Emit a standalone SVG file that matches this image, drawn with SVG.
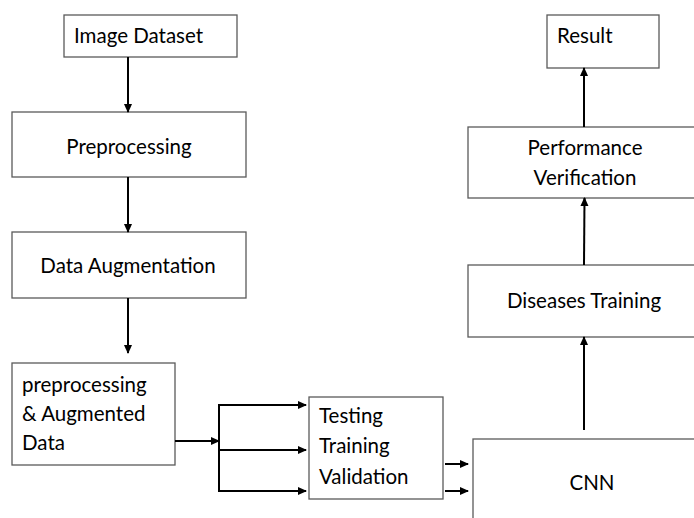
<svg xmlns="http://www.w3.org/2000/svg" width="694" height="518" viewBox="0 0 694 518">
<style>
.box{fill:#fff;stroke:#5a5a5a;stroke-width:1.3}
.t{font-family:Lato,"Liberation Sans",sans-serif;font-size:20.5px;fill:#000}
.c{text-anchor:middle}
.ln{fill:none;stroke:#000;stroke-width:2}
</style>
<defs>
<marker id="ah" markerWidth="9" markerHeight="9" refX="8" refY="4.5" orient="auto" markerUnits="userSpaceOnUse">
<path d="M0,0.5 L9,4.5 L0,8.5 z" fill="#000"/>
</marker>
</defs>
<rect width="694" height="518" fill="#fff"/>
<g id="image-dataset"><rect class="box" x="64" y="15" width="173" height="42"/><text class="t" x="74" y="43">Image Dataset</text></g>
<g id="preprocessing"><rect class="box" x="12" y="112" width="234" height="65"/><text class="t c" x="129" y="154">Preprocessing</text></g>
<g id="data-augmentation"><rect class="box" x="12" y="232" width="234" height="66"/><text class="t c" x="128" y="273">Data Augmentation</text></g>
<g id="augmented-data"><rect class="box" x="12" y="363" width="163" height="102"/><text class="t" x="22" y="392">preprocessing</text><text class="t" x="22" y="421">&amp; Augmented</text><text class="t" x="22" y="450">Data</text></g>
<g id="testing"><rect class="box" x="309" y="397" width="134" height="102"/><text class="t" x="319" y="423">Testing</text><text class="t" x="319" y="453">Training</text><text class="t" x="319" y="484">Validation</text></g>
<g id="cnn"><rect class="box" x="473" y="439" width="260" height="110"/><text class="t c" x="592" y="490">CNN</text></g>
<g id="diseases-training"><rect class="box" x="468" y="265" width="260" height="72"/><text class="t c" x="584" y="308">Diseases Training</text></g>
<g id="performance"><rect class="box" x="468" y="127" width="260" height="71"/><text class="t c" x="585" y="155">Performance</text><text class="t c" x="585" y="185">Verification</text></g>
<g id="result"><rect class="box" x="547" y="15" width="112" height="53"/><text class="t" x="557" y="43">Result</text></g>
<g id="connectors">
<line class="ln" x1="128" y1="57" x2="128" y2="112" marker-end="url(#ah)"/>
<line class="ln" x1="128" y1="177" x2="128" y2="232" marker-end="url(#ah)"/>
<line class="ln" x1="128" y1="298" x2="128" y2="353" marker-end="url(#ah)"/>
<line class="ln" x1="175" y1="441" x2="219" y2="441" marker-end="url(#ah)"/>
<polyline class="ln" points="306,405 219,405 219,491 306,491" marker-end="url(#ah)"/>
<line class="ln" x1="219" y1="405" x2="306" y2="405" marker-end="url(#ah)"/>
<line class="ln" x1="219" y1="450" x2="306" y2="450" marker-end="url(#ah)"/>
<line class="ln" x1="445" y1="464" x2="468" y2="464" marker-end="url(#ah)"/>
<line class="ln" x1="445" y1="491" x2="468" y2="491" marker-end="url(#ah)"/>
<line class="ln" x1="584" y1="430" x2="584" y2="337" marker-end="url(#ah)"/>
<line class="ln" x1="584" y1="265" x2="584.5" y2="198" marker-end="url(#ah)"/>
<line class="ln" x1="584" y1="127" x2="584" y2="68" marker-end="url(#ah)"/>
</g>
</svg>
